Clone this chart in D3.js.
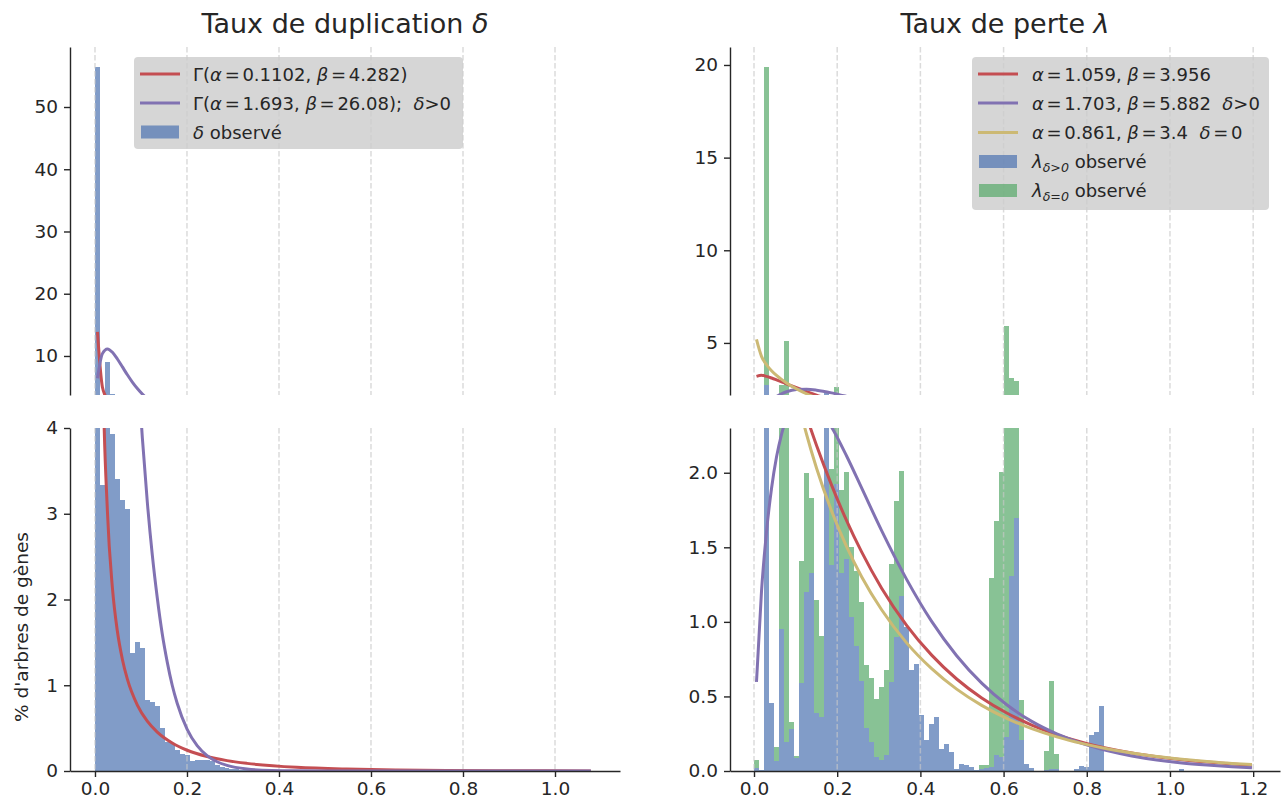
<!DOCTYPE html>
<html><head><meta charset="utf-8">
<script src="https://cdn.jsdelivr.net/npm/d3@7"></script>
<style>
body{margin:0;background:#fff}
svg{display:block}
text{font-family:"DejaVu Sans",sans-serif;fill:#262626}
</style>
</head><body>
<svg id="chart" width="1282" height="812"></svg>
<script>
// ---------------- DATA ----------------
// Duplication rate (left): 100 bins of width dupBinWidth starting at 0
const dupBinWidth = 0.01083;
const dupObserved = [56.5,3.34,9.1,3.93,3.40,3.16,3.06,1.38,1.50,1.44,
  0.83,0.80,0.76,0.50,0.34,0.33,0.245,0.20,0.19,0.12,
  0.13,0.13,0.13,0.12,0.07,0.05,0.03,0.02,0.02,0.015,
  0.01,0.01,0.005,0.005,0.005,0.004,0.004,0.003,0.003,0.002,
  0,0,0,0,0,0,0,0,0,0, 0,0,0,0,0,0,0,0,0,0,
  0,0,0,0,0,0,0,0,0,0, 0,0,0,0,0,0,0,0,0,0,
  0,0,0,0,0,0,0,0,0,0, 0,0,0,0,0,0,0,0,0,0];
const dupAllX = [0.0054,0.0162,0.0271,0.0379,0.0487,0.0596,0.0704,0.0921,0.1137,0.1354,0.1679,0.2004,0.2437,0.2870,0.3304,0.4387,0.5470,0.6554,0.7637,0.8720,0.9804,1.0779];
const dupAllY = [13.86,4.98,3.02,2.135,1.629,1.301,1.071,0.769,0.581,0.453,0.326,0.242,0.169,0.121,0.089,0.0434,0.0225,0.0120,0.0066,0.0037,0.0021,0.0012];
const dupPosX = [0.0054,0.0162,0.0271,0.0379,0.0487,0.0596,0.0704,0.0812,0.0921,0.1029,0.1137,0.1246,0.1354,0.1462,0.1571,0.1679,0.1787,0.2004,0.2221,0.2437,0.2654,0.2870,0.3304,0.3846,0.4387,0.5470,1.0779];
const dupPosY = [6.43,10.38,11.14,10.60,9.51,8.24,6.98,5.81,4.77,3.89,3.14,2.52,2.02,1.60,1.27,1.00,0.79,0.485,0.296,0.180,0.108,0.065,0.023,0.006,0.0018,0.0001,0];

// Loss rate (right): 100 bins, stacked (δ>0 at bottom, δ=0 on top)
const lossBinWidth = 0.01203;
const lossObservedPos = [0.022,0.007,2.74,0.457,0.067,0.954,0.196,0.279,0.09,0.593,
  1.2,1.329,0.386,0.359,2.32,1.378,1.924,1.328,1.423,1.032,
  0.836,0.604,0.285,0.196,0.096,0.074,0.107,0.598,0.899,1.171,
  0.965,0.680,0.716,0.375,0.207,0.314,0.363,0.147,0.181,0.127,
  0.013,0.047,0.040,0.025,0.007,0.011,0.018,0.029,0.107,0.091,
  0.23,1.307,1.695,0.207,0.047,0.018,0,0,0.007,0.011,
  0.011,0,0,0,0.013,0.033,0.03,0.241,0.259,0.435,
  0,0,0,0,0,0,0,0,0,0, 0,0,0,0,0,0.013,0,0,0,0,
  0,0,0,0,0,0,0,0,0,0];
const lossObservedZero = [0.052,0,17.16,0,0.096,1.75,4.9,0.05,0.01,0.818,
  0.8,0.50,0.764,0.544,0,0.646,0.676,0.558,0.584,0.468,
  0.502,0.529,0.424,0.428,0.388,0.49,0.569,0.787,0.914,0.842,
  0,0,0,0,0,0,0,0,0,0, 0,0,0,0,0,0.03,0.02,1.264,1.572,1.911,
  5.67,1.79,1.275,0.268,0,0,0,0,0.127,0.591,
  0.103,0,0,0,0,0,0,0,0,0, 0,0,0,0,0,0,0,0,0,0,
  0,0,0,0,0,0,0,0,0,0, 0,0,0,0,0,0,0,0,0,0];
const lossCurveX = [0.0060,0.0180,0.0301,0.0421,0.0541,0.0662,0.0782,0.1023,0.1263,0.1504,0.1865,0.2226,0.2587,0.3068,0.3669,0.4271,0.4872,0.5474,0.6076,0.6677,0.7279,0.7880,0.8482,0.9083,0.9685,1.0287,1.0888,1.1490,1.1971];
const lossAllY = [3.197,3.252,3.196,3.108,3.008,2.902,2.795,2.582,2.377,2.183,1.917,1.679,1.469,1.226,0.977,0.777,0.617,0.490,0.389,0.308,0.244,0.193,0.153,0.121,0.096,0.076,0.060,0.047,0.039];
const lossPosY = [0.597,1.203,1.605,1.894,2.105,2.258,2.367,2.482,2.498,2.451,2.306,2.112,1.898,1.612,1.285,1.003,0.773,0.589,0.444,0.333,0.249,0.185,0.137,0.101,0.074,0.054,0.040,0.029,0.022];
const lossZeroY = [5.190,4.276,3.823,3.502,3.247,3.031,2.842,2.523,2.258,2.030,1.743,1.504,1.303,1.081,0.859,0.686,0.549,0.440,0.353,0.284,0.229,0.185,0.149,0.120,0.097,0.079,0.064,0.051,0.043];

// ticks
const dupXTicks = [0,0.2,0.4,0.6,0.8,1.0];
const lossXTicks = [0,0.2,0.4,0.6,0.8,1.0,1.2];
const dupTopYTicks = [10,20,30,40,50];
const dupBotYTicks = [0,1,2,3,4];
const lossTopYTicks = [5,10,15,20];
const lossBotYTicks = [0,0.5,1.0,1.5,2.0];

// ---------------- STYLE ----------------
const C = {blue:"#4c72b0", green:"#55a868", red:"#c44e52", purple:"#8172b2", yellow:"#ccb974", ink:"#262626"};
const TICK_FS = 18.5, TITLE_FS = 27, LEG_FS = 18;

const svg = d3.select("#chart");
const defs = svg.append("defs");

function panel(id, x0, x1, xDomain, yTopDomain, yBotDomain, topY, botY) {
  const xs = d3.scaleLinear().domain(xDomain).range([x0, x1]);
  const yt = d3.scaleLinear().domain(yTopDomain).range([topY[1], topY[0]]);
  const yb = d3.scaleLinear().domain(yBotDomain).range([botY[1], botY[0]]);
  defs.append("clipPath").attr("id", id+"t").append("rect").attr("x", x0).attr("y", topY[0]).attr("width", x1-x0).attr("height", topY[1]-topY[0]);
  defs.append("clipPath").attr("id", id+"b").append("rect").attr("x", x0).attr("y", botY[0]).attr("width", x1-x0).attr("height", botY[1]-botY[0]);
  const gt = svg.append("g").attr("clip-path", `url(#${id}t)`);
  const gb = svg.append("g").attr("clip-path", `url(#${id}b)`);
  return {xs, yt, yb, gt, gb, x0, x1, topY, botY};
}

const L = panel("L", 70, 620, [-0.0543, 1.1413], [3.73, 59.64], [0, 4], [47, 395], [428, 771]);
const R = panel("R", 730, 1280, [-0.0577, 1.2645], [2.19, 20.97], [0, 2.3], [47, 395], [428, 771]);

function drawBars(P, data, base, width, color) {
  [[P.gt, P.yt], [P.gb, P.yb]].forEach(([g, y]) => {
    g.append("g").selectAll("rect").data(data).join("rect")
      .attr("shape-rendering", "crispEdges")
      .attr("x", (d, i) => P.xs(i*width))
      .attr("width", (d, i) => P.xs((i+1)*width) - P.xs(i*width))
      .attr("y", (d, i) => y((base ? base[i] : 0) + d))
      .attr("height", (d, i) => Math.max(0, y(base ? base[i] : 0) - y((base ? base[i] : 0) + d)))
      .attr("fill", color).attr("fill-opacity", 0.7);
  });
}
function drawGrid(P, ticks) {
  [[P.gt, P.topY], [P.gb, P.botY]].forEach(([g, yr]) => {
    g.append("g").selectAll("line").data(ticks).join("line")
      .attr("x1", d => P.xs(d)).attr("x2", d => P.xs(d))
      .attr("y1", yr[0]).attr("y2", yr[1])
      .attr("stroke", "#c8c8c8").attr("stroke-opacity", 0.65)
      .attr("stroke-width", 1.5).attr("stroke-dasharray", "5.5,2.5");
  });
}
function drawCurve(P, xs, ys, color) {
  [[P.gt, P.yt], [P.gb, P.yb]].forEach(([g, y]) => {
    const line = d3.line().x(d => P.xs(d[0])).y(d => y(d[1])).curve(d3.curveMonotoneX);
    g.append("path").datum(xs.map((x, i) => [x, ys[i]])).attr("d", line)
      .attr("fill", "none").attr("stroke", color).attr("stroke-width", 3)
      .attr("stroke-linejoin", "round").attr("stroke-linecap", "butt");
  });
}

// left
drawBars(L, dupObserved, null, dupBinWidth, C.blue);
drawGrid(L, dupXTicks);
drawCurve(L, dupAllX, dupAllY, C.red);
drawCurve(L, dupPosX, dupPosY, C.purple);
// right
drawBars(R, lossObservedPos, null, lossBinWidth, C.blue);
drawBars(R, lossObservedZero, lossObservedPos, lossBinWidth, C.green);
drawGrid(R, lossXTicks);
drawCurve(R, lossCurveX, lossAllY, C.red);
drawCurve(R, lossCurveX, lossPosY, C.purple);
drawCurve(R, lossCurveX, lossZeroY, C.yellow);

// axes
function styleAxis(g) {
  g.selectAll(".domain").attr("stroke", C.ink).attr("stroke-width", 1.4);
  g.selectAll(".tick line").attr("stroke", C.ink).attr("stroke-width", 1.4);
  g.selectAll(".tick text").attr("fill", C.ink).style("font-size", TICK_FS+"px").style("font-family", "'DejaVu Sans',sans-serif");
}
function axes(P, xTicks, yTopTicks, yBotTicks, yTopFmt, yBotFmt) {
  svg.append("g").attr("transform", `translate(${P.x0},0)`)
    .call(d3.axisLeft(P.yt).tickValues(yTopTicks).tickFormat(yTopFmt).tickSize(6).tickPadding(6).tickSizeOuter(0)).call(styleAxis);
  svg.append("g").attr("transform", `translate(${P.x0},0)`)
    .call(d3.axisLeft(P.yb).tickValues(yBotTicks).tickFormat(yBotFmt).tickSize(6).tickPadding(6).tickSizeOuter(0)).call(styleAxis);
  svg.append("g").attr("transform", `translate(0,${P.botY[1]})`)
    .call(d3.axisBottom(P.xs).tickValues(xTicks).tickFormat(d3.format(".1f")).tickSize(6).tickPadding(5).tickSizeOuter(0)).call(styleAxis);
}
axes(L, dupXTicks, dupTopYTicks, dupBotYTicks, d3.format("d"), d3.format("d"));
axes(R, lossXTicks, lossTopYTicks, lossBotYTicks, d3.format("d"), d3.format(".1f"));

// rich text helper (italic math symbols, subscripts, relation spacing)
function richText(g, x, y, parts, fs, anchor) {
  const t = g.append("text").attr("x", x).attr("y", y).attr("text-anchor", anchor || "start")
    .style("font-size", fs+"px").attr("xml:space", "preserve").style("white-space", "pre");
  parts.forEach(p => {
    const s = t.append("tspan").text(p.t);
    if (p.i) s.style("font-style", "italic");
    if (p.rel) s.attr("dx", fs*0.15);
    if (p.after) s.attr("dx", fs*0.15);
    if (p.sub) s.attr("dy", fs*0.22).style("font-size", (fs*0.7)+"px");
    if (p.unsub) s.attr("dy", -fs*0.22);
  });
  return t;
}
richText(svg, 345, 33, [{t:"Taux de duplication "},{t:"δ", i:1}], TITLE_FS, "middle");
richText(svg, 1005, 33, [{t:"Taux de perte "},{t:"λ", i:1}], TITLE_FS, "middle");

// y label
svg.append("text").attr("transform", "translate(28,627) rotate(-90)").attr("text-anchor", "middle")
  .style("font-size", TICK_FS+"px").text("% d'arbres de gènes");

// legends
function legend(x, y, w, h, rows, hx0, hx1, tx, rowY) {
  const g = svg.append("g");
  g.append("rect").attr("x", x).attr("y", y).attr("width", w).attr("height", h).attr("rx", 4)
    .attr("fill", "#cccccc").attr("fill-opacity", 0.8);
  rows.forEach((r, i) => {
    const cy = rowY[i];
    if (r.type === "line") {
      g.append("line").attr("x1", hx0).attr("x2", hx1).attr("y1", cy).attr("y2", cy)
        .attr("stroke", r.color).attr("stroke-width", 3);
    } else {
      g.append("rect").attr("x", hx0+1).attr("y", cy-6.5).attr("width", hx1-hx0-2).attr("height", 13)
        .attr("fill", r.color).attr("fill-opacity", 0.7);
    }
    richText(g, tx, cy+6.5, r.parts, LEG_FS, "start");
  });
}
legend(134, 57, 329, 92, [
  {type:"line", color:C.red, parts:[{t:"Γ("},{t:"α",i:1},{t:"=",rel:1},{t:"0.1102, ",after:1},{t:"β",i:1},{t:"=",rel:1},{t:"4.282)",after:1}]},
  {type:"line", color:C.purple, parts:[{t:"Γ("},{t:"α",i:1},{t:"=",rel:1},{t:"1.693, ",after:1},{t:"β",i:1},{t:"=",rel:1},{t:"26.08);  ",after:1},{t:"δ",i:1},{t:">0"}]},
  {type:"patch", color:C.blue, parts:[{t:"δ",i:1},{t:" observé"}]}
], 140, 180, 193, [74, 103, 132]);
legend(972, 57, 297, 153, [
  {type:"line", color:C.red, parts:[{t:"α",i:1},{t:"=",rel:1},{t:"1.059, ",after:1},{t:"β",i:1},{t:"=",rel:1},{t:"3.956",after:1}]},
  {type:"line", color:C.purple, parts:[{t:"α",i:1},{t:"=",rel:1},{t:"1.703, ",after:1},{t:"β",i:1},{t:"=",rel:1},{t:"5.882  ",after:1},{t:"δ",i:1},{t:">0"}]},
  {type:"line", color:C.yellow, parts:[{t:"α",i:1},{t:"=",rel:1},{t:"0.861, ",after:1},{t:"β",i:1},{t:"=",rel:1},{t:"3.4  ",after:1},{t:"δ",i:1},{t:"=",rel:1},{t:"0",after:1}]},
  {type:"patch", color:C.blue, parts:[{t:"λ",i:1},{t:"δ>0",i:1,sub:1},{t:" observé",unsub:1}]},
  {type:"patch", color:C.green, parts:[{t:"λ",i:1},{t:"δ=0",i:1,sub:1},{t:" observé",unsub:1}]}
], 978, 1018, 1032, [74, 103, 132.5, 161.5, 190.5]);
</script>
</body></html>
